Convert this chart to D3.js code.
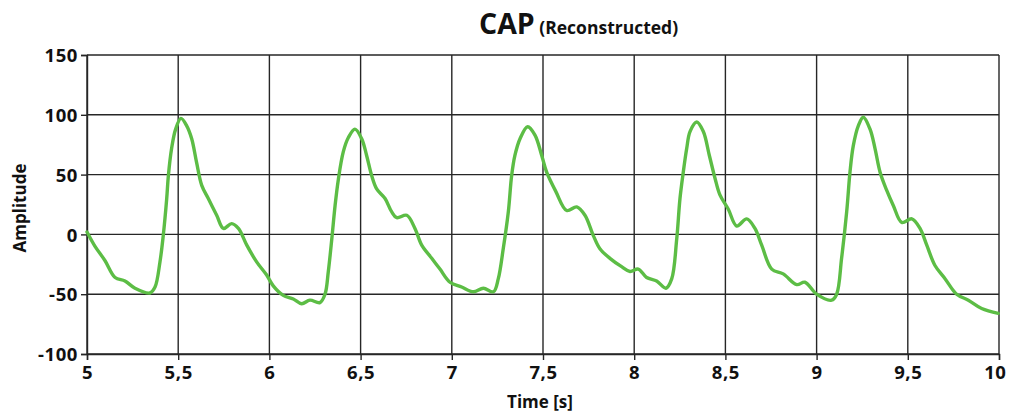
<!DOCTYPE html>
<html><head><meta charset="utf-8">
<script src="https://cdn.jsdelivr.net/npm/d3@7"></script>
<style>
body{margin:0;background:#fff;}
text{font-family:"Open Sans","Noto Sans",sans-serif;font-weight:700;fill:#111;}
</style></head>
<body><svg id="c" width="1009" height="414"></svg>
<script>
const time = [5.000,5.044,5.099,5.154,5.208,5.263,5.345,5.373,5.400,5.418,5.437,5.446,5.464,5.486,5.515,5.546,5.574,5.601,5.629,5.665,5.711,5.748,5.793,5.830,5.876,5.930,5.985,6.021,6.076,6.131,6.177,6.222,6.277,6.305,6.323,6.342,6.360,6.378,6.405,6.433,6.469,6.506,6.533,6.561,6.588,6.634,6.670,6.698,6.753,6.798,6.835,6.890,6.935,6.990,7.054,7.118,7.173,7.228,7.255,7.282,7.310,7.328,7.346,7.374,7.416,7.456,7.493,7.520,7.570,7.630,7.685,7.730,7.776,7.812,7.867,7.931,7.977,8.022,8.068,8.123,8.174,8.206,8.233,8.251,8.269,8.288,8.306,8.343,8.379,8.412,8.443,8.470,8.516,8.562,8.617,8.662,8.699,8.754,8.817,8.891,8.936,9.000,9.082,9.110,9.137,9.165,9.183,9.201,9.229,9.256,9.293,9.320,9.348,9.384,9.421,9.467,9.522,9.567,9.604,9.649,9.704,9.768,9.832,9.905,9.996];
const amplitude = [2,-10,-22,-36,-39,-45,-49,-44,-23,-1,30,49,72,88,97,91,80,60,41,30,16,5,9,5,-9,-23,-34,-43,-51,-54,-58,-55,-57,-50,-31,-4,24,46,69,81,88,80,66,49,38,30,19,14,16,5,-9,-20,-29,-40,-44,-48,-45,-48,-37,-12,19,49,66,80,90,83,66,52,36,20,23,16,-1,-12,-20,-27,-31,-29,-36,-39,-45,-37,-4,30,52,72,86,94,86,66,47,33,21,7,13,5,-9,-29,-33,-42,-40,-50,-55,-50,-20,19,52,74,91,98,88,72,52,37,24,10,13,5,-9,-26,-37,-50,-55,-62,-66];
const xTicks = [5,5.5,6,6.5,7,7.5,8,8.5,9,9.5,10];
const yTicks = [-100,-50,0,50,100,150];
const titleMain = "CAP";
const titleSub = "(Reconstructed)";
const xLabel = "Time [s]";
const yLabel = "Amplitude";

const svg = d3.select("#c");
const L=87,R=999,T=55,B=354;
const x = d3.scaleLinear().domain([5,10]).range([L,R]);
const y = d3.scaleLinear().domain([-100,150]).range([B,T]);
const fmt = d => String(d).replace(".", ",");

// grid
const g = svg.append("g");
g.selectAll(".vx").data(xTicks).join("line")
  .attr("x1",d=>x(d)).attr("x2",d=>x(d)).attr("y1",T).attr("y2",B)
  .attr("stroke","#262626").attr("stroke-width",1.4);
g.selectAll(".hy").data(yTicks).join("line")
  .attr("x1",L).attr("x2",R).attr("y1",d=>y(d)).attr("y2",d=>y(d))
  .attr("stroke","#262626").attr("stroke-width",1.4);

// axes
const xa = svg.append("g").attr("transform",`translate(0,${B})`)
  .call(d3.axisBottom(x).tickValues(xTicks).tickFormat(fmt).tickSize(6).tickPadding(6));
const ya = svg.append("g").attr("transform",`translate(${L},0)`)
  .call(d3.axisLeft(y).tickValues(yTicks).tickFormat(d=>d<0?"-"+Math.abs(d):d).tickSize(6).tickPadding(3));
[xa,ya].forEach(a=>{
  a.selectAll("path").attr("stroke","#262626").attr("stroke-width",1.4);
  a.selectAll("line").attr("stroke","#262626").attr("stroke-width",1.4);
  a.selectAll("text").style("font-size","18.5px").style("letter-spacing","0.6px")
   .style("font-family",'"Open Sans",sans-serif').style("font-weight","700").attr("fill","#111");
});
ya.selectAll("text").attr("dy","0.36em");
xa.selectAll(".tick text").filter(d=>d===10).attr("text-anchor","end").attr("x",7);

// data line
const line = d3.line().x((d,i)=>x(time[i])).y(d=>y(d)).curve(d3.curveCatmullRom.alpha(0.5));
svg.append("path").datum(amplitude).attr("d",line)
  .attr("fill","none").attr("stroke","#5cbd45").attr("stroke-width",3.4)
  .attr("stroke-linejoin","round").attr("stroke-linecap","round");

// titles
const t = svg.append("text").attr("x",479).attr("y",34).attr("text-anchor","start");
t.append("tspan").text(titleMain).style("font-size","28.5px");
t.append("tspan").text(" "+titleSub).style("font-size","17.5px");

svg.append("text").attr("x",540).attr("y",408).attr("text-anchor","middle").style("font-size","17px").text(xLabel);
svg.append("text").attr("transform","translate(26,208) rotate(-90)").attr("text-anchor","middle").style("font-size","17px").text(yLabel);
</script></body></html>
